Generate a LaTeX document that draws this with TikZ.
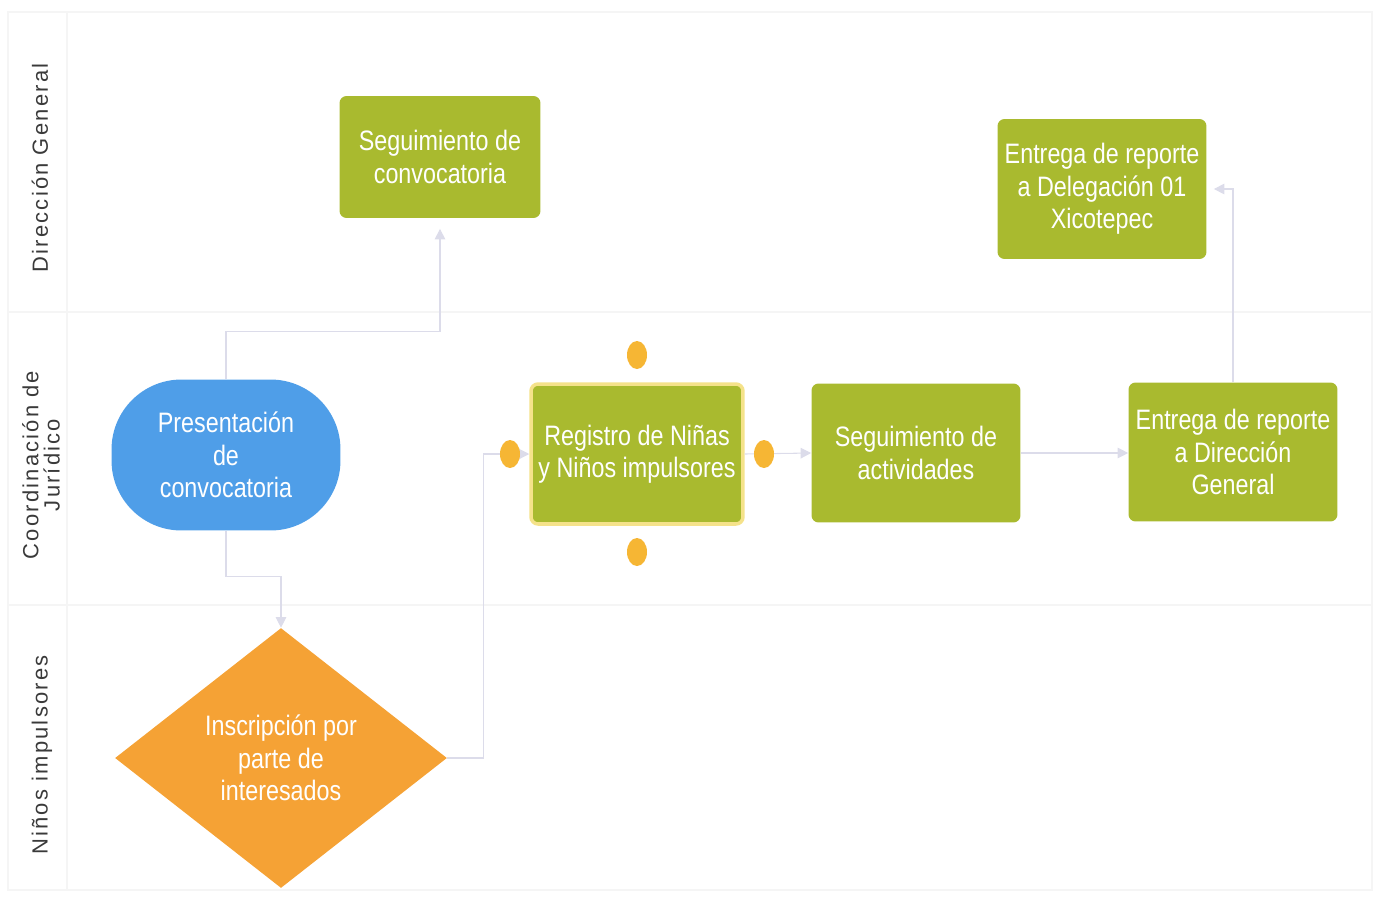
\documentclass[tikz,border=0pt]{standalone}
\usepackage{fontspec}
\setmainfont{Liberation Sans}
\newfontfamily\angosta[FakeStretch=0.83]{Liberation Sans}
\newfontfamily\carrilfont[LetterSpace=10]{Liberation Sans}
\usetikzlibrary{arrows.meta,shapes.geometric}
\definecolor{verde}{HTML}{A9BA2F}
\definecolor{azul}{HTML}{4F9EE8}
\definecolor{naranja}{HTML}{F5A235}
\definecolor{punto}{HTML}{F6B634}
\definecolor{brillo}{HTML}{F5E28A}
\definecolor{enlace}{HTML}{DCDCEA}
\definecolor{carril}{HTML}{F5F5F5}
\definecolor{rotulo}{HTML}{3A3A3A}
\tikzset{
  texto/.style={text=white, align=center, font=\angosta\fontsize{16}{18.5}\selectfont},
  proceso/.style={texto, fill=verde, rounded corners=4pt, minimum width=4.18cm, minimum height=2.78cm, inner sep=2pt},
  inicio/.style={texto, fill=azul, rounded corners=1.4cm, minimum width=4.58cm, minimum height=3.02cm},
  decision/.style={texto, diamond, fill=naranja, aspect=1.277, minimum width=6.64cm, minimum height=5.2cm, inner sep=0pt},
  asa/.style={ellipse, fill=punto, minimum width=0.4cm, minimum height=0.56cm, inner sep=0pt},
  flecha/.style={draw=enlace, line width=0.6pt, -{Triangle[length=6pt,width=6pt]}},
  carrilfino/.style={draw=carril, line width=0.6pt},
  etiqueta/.style={rotate=90, text=rotulo, align=center, font=\carrilfont\fontsize{12.5}{12}\selectfont}
}
\begin{document}
\begin{tikzpicture}[x=0.02cm,y=-0.02cm]
\useasboundingbox (0,0) rectangle (1377,897);
\draw[carrilfino] (8,12) rectangle (1372,890);
\draw[carrilfino] (67,12) -- (67,890);
\draw[carrilfino] (8,312) -- (1372,312);
\draw[carrilfino] (8,605) -- (1372,605);

\node[etiqueta] (dg) at (40,168) {Dirección General};
\node[etiqueta] (cj) at (41,465) {Coordinación de\\Jurídico};
\node[etiqueta] (ni) at (42,755) {Niños impulsores};

\node[proceso, minimum width=4.02cm, minimum height=2.44cm] (segconv) at (440,157) {Seguimiento de\\convocatoria};
\node[proceso, minimum height=2.8cm] (delegacion) at (1102,189) {Entrega de reporte\\a Delegación 01\\Xicotepec};
\node[inicio] (presentacion) at (226,455) {Presentación\\de\\convocatoria};
\node[proceso, minimum width=4.24cm, minimum height=2.8cm, draw=brillo, line width=2pt] (registro) at (637,454) {Registro de Niñas\\y Niños impulsores};
\node[proceso] (segact) at (916,453) {Seguimiento de\\actividades};
\node[proceso] (entregadg) at (1233,452) {Entrega de reporte\\a Dirección\\General};
\node[decision] (inscripcion) at (281,758) {Inscripción por\\parte de\\interesados};

\draw[flecha] (presentacion.north) -- ++(0,-48) -| ([yshift=-6pt]segconv.south);
\draw[flecha] (presentacion.south) -- ++(0,46) -| (inscripcion.north);
\draw[flecha] (inscripcion.east) -- ++(36,0) |- (registro.west);
\draw[flecha] (registro.east) -- (segact.west);
\draw[flecha] (segact.east) -- (segact.east -| entregadg.west);
\draw[flecha] (entregadg.north) |- ([xshift=4pt]delegacion.east);

\node[asa] (asaN) at (637,355) {};
\node[asa] (asaO) at (510,454) {};
\node[asa] (asaE) at (764,454) {};
\node[asa] (asaS) at (637,552) {};
\end{tikzpicture}
\end{document}
